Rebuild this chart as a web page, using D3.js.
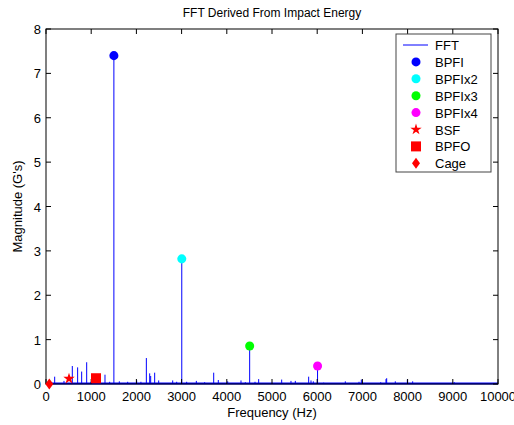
<!DOCTYPE html>
<html>
<head>
<meta charset="utf-8">
<script src="https://cdn.jsdelivr.net/npm/d3@7"></script>
<style>
  body { margin: 0; background: #fff; }
  svg { display: block; font-family: "Liberation Sans", Arial, sans-serif; }
</style>
</head>
<body>
<svg id="chart" width="514" height="425"></svg>
<script>
// FFT spectrum spikes (Hz, G's)
const fftFreq = [192, 398, 582, 700, 789, 900, 995, 1305, 1408, 1502, 1622, 1807, 2006, 2100, 2220, 2294, 2316, 2404, 2493,
  2803, 2891, 3004, 3112, 3326, 3510, 3710, 3812, 4020, 4314, 4410, 4506, 4624, 4705, 5214, 5420, 5516, 5811, 5863, 5914,
  6008, 6143, 6622, 6925, 6976, 7405, 7522, 7537, 7728, 7994, 8112, 9033];
const fftMag = [0.165, 0.07, 0.405, 0.375, 0.28, 0.49, 0.05, 0.21, 0.05, 7.4, 0.06, 0.05, 0.08, 0.05, 0.585, 0.24, 0.18, 0.255, 0.08,
  0.08, 0.05, 2.82, 0.05, 0.07, 0.04, 0.255, 0.09, 0.06, 0.08, 0.04, 0.856, 0.05, 0.11, 0.1, 0.07, 0.07, 0.165, 0.08, 0.06,
  0.405, 0.03, 0.06, 0.05, 0.1, 0.04, 0.11, 0.13, 0.06, 0.1, 0.06, 0.04];

// fault frequency markers
const markerNames = ['BPFI', 'BPFIx2', 'BPFIx3', 'BPFIx4', 'BSF', 'BPFO', 'Cage'];
const markerFreq = [1502, 3004, 4506, 6008, 509, 1106, 73];
const markerMag = [7.4, 2.82, 0.856, 0.405, 0.12, 0.13, 0.0];

const xTicks = [0, 1000, 2000, 3000, 4000, 5000, 6000, 7000, 8000, 9000, 10000];
const yTicks = [0, 1, 2, 3, 4, 5, 6, 7, 8];

const markerStyle = {
  BPFI:   { color: '#0000ff', shape: 'circle' },
  BPFIx2: { color: '#00ffff', shape: 'circle' },
  BPFIx3: { color: '#00ff00', shape: 'circle' },
  BPFIx4: { color: '#ff00ff', shape: 'circle' },
  BSF:    { color: '#ff0000', shape: 'star' },
  BPFO:   { color: '#ff0000', shape: 'square' },
  Cage:   { color: '#ff0000', shape: 'diamond' }
};

const svg = d3.select('#chart');
const margin = { top: 29, right: 16, bottom: 41, left: 46 };
const width = 514, height = 425;

const x = d3.scaleLinear().domain([0, 10000]).range([margin.left, width - margin.right]);
const y = d3.scaleLinear().domain([0, 8]).range([height - margin.bottom, margin.top]);

// marker shapes
function symbolPath(shape) {
  if (shape === 'circle') return d3.symbol(d3.symbolCircle, 64)();
  if (shape === 'square') return d3.symbol(d3.symbolSquare, 100)();
  if (shape === 'star') return d3.symbol(d3.symbolStar, 40)();
  // tall MATLAB-style diamond
  return 'M0,-5.5L4,0L0,5.5L-4,0Z';
}

// FFT noise floor + spikes
svg.append('line')
  .attr('x1', x(0)).attr('x2', x(10000))
  .attr('y1', y(0) - 0.5).attr('y2', y(0) - 0.5)
  .attr('stroke', '#0000ff').attr('stroke-width', 2);

svg.append('g')
  .selectAll('line')
  .data(fftFreq.map((f, i) => ({ f, m: fftMag[i] })))
  .join('line')
  .attr('x1', d => x(d.f)).attr('x2', d => x(d.f))
  .attr('y1', y(0)).attr('y2', d => y(d.m))
  .attr('stroke', '#0000ff')
  .attr('stroke-width', 1);

// axes box with inward ticks
const tickLen = 5;
const axisG = svg.append('g').attr('stroke', '#000').attr('stroke-width', 1);
axisG.append('rect')
  .attr('x', x(0)).attr('y', y(8))
  .attr('width', x(10000) - x(0)).attr('height', y(0) - y(8))
  .attr('fill', 'none');

xTicks.forEach(t => {
  axisG.append('line').attr('x1', x(t)).attr('x2', x(t)).attr('y1', y(0)).attr('y2', y(0) - tickLen);
  axisG.append('line').attr('x1', x(t)).attr('x2', x(t)).attr('y1', y(8)).attr('y2', y(8) + tickLen);
});
yTicks.forEach(t => {
  axisG.append('line').attr('x1', x(0)).attr('x2', x(0) + tickLen).attr('y1', y(t)).attr('y2', y(t));
  axisG.append('line').attr('x1', x(10000)).attr('x2', x(10000) - tickLen).attr('y1', y(t)).attr('y2', y(t));
});

svg.append('g')
  .selectAll('text')
  .data(xTicks)
  .join('text')
  .attr('x', d => x(d)).attr('y', y(0) + 17)
  .attr('text-anchor', 'middle')
  .style('font-size', '13px')
  .text(d => d);

svg.append('g')
  .selectAll('text')
  .data(yTicks)
  .join('text')
  .attr('x', x(0) - 5).attr('y', d => y(d) + 5)
  .attr('text-anchor', 'end')
  .style('font-size', '13px')
  .text(d => d);

// markers on the fault frequencies
svg.append('g')
  .selectAll('path')
  .data(markerNames.map((n, i) => ({ n, f: markerFreq[i], m: markerMag[i] })))
  .join('path')
  .attr('transform', d => `translate(${x(d.f)},${y(d.m)})`)
  .attr('d', d => symbolPath(markerStyle[d.n].shape))
  .attr('fill', d => markerStyle[d.n].color);

// titles
svg.append('text')
  .attr('x', (x(0) + x(10000)) / 2).attr('y', 17)
  .attr('text-anchor', 'middle')
  .style('font-size', '12px')
  .text('FFT Derived From Impact Energy');

svg.append('text')
  .attr('x', (x(0) + x(10000)) / 2).attr('y', 417)
  .attr('text-anchor', 'middle')
  .style('font-size', '13px')
  .text('Frequency (Hz)');

svg.append('text')
  .attr('transform', `translate(22,${(y(0) + y(8)) / 2}) rotate(-90)`)
  .attr('text-anchor', 'middle')
  .style('font-size', '13px')
  .text("Magnitude (G's)");

// legend
const legend = svg.append('g').attr('transform', 'translate(396,34)');
legend.append('rect')
  .attr('width', 95).attr('height', 138)
  .attr('fill', '#fff').attr('stroke', '#444');

const rowH = 16.9;
legend.append('line')
  .attr('x1', 7).attr('x2', 32)
  .attr('y1', 11).attr('y2', 11)
  .attr('stroke', '#0000ff');
legend.append('text').attr('x', 39).attr('y', 16).style('font-size', '13px').text('FFT');

markerNames.forEach((n, i) => {
  const cy = 11 + rowH * (i + 1);
  legend.append('path')
    .attr('transform', `translate(20,${cy})`)
    .attr('d', symbolPath(markerStyle[n].shape))
    .attr('fill', markerStyle[n].color);
  legend.append('text').attr('x', 39).attr('y', cy + 5).style('font-size', '13px').text(n);
});
</script>
</body>
</html>
